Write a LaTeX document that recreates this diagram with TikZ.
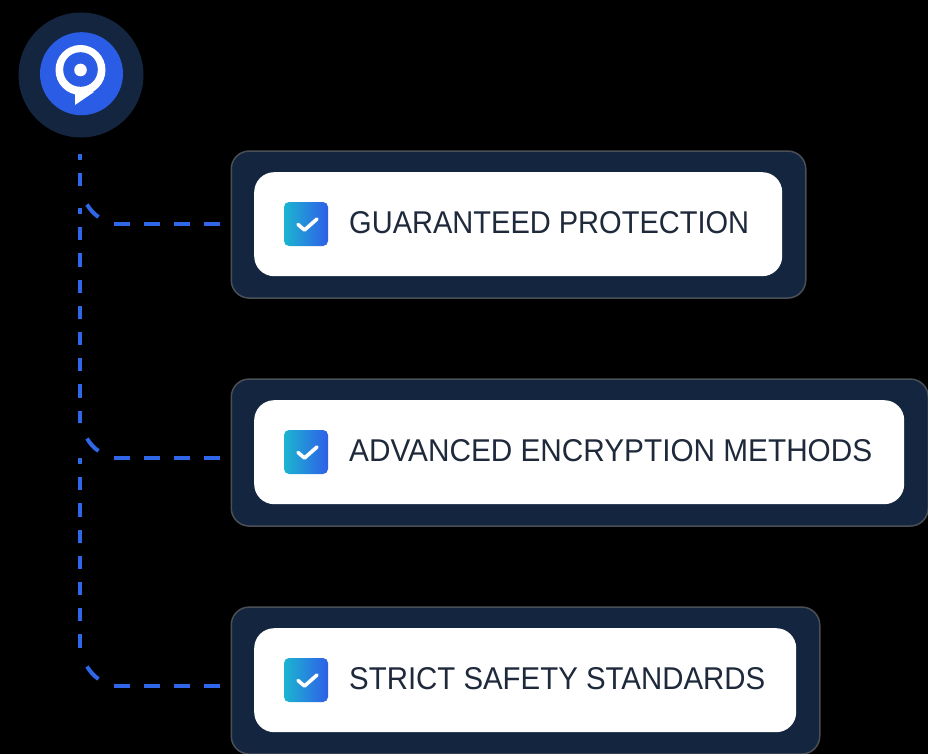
\documentclass[tikz,border=0pt]{standalone}
\usepackage{fontspec}
\setmainfont{Liberation Sans}
\usetikzlibrary{calc}
\definecolor{navy}{HTML}{14263F}
\definecolor{rim}{HTML}{4A4F55}
\definecolor{hubblue}{HTML}{2B5CE6}
\definecolor{dashblue}{HTML}{3067E8}
\definecolor{inktext}{HTML}{1E293B}
\definecolor{tickleft}{HTML}{1CB5D0}
\definecolor{tickright}{HTML}{2F5FE8}
\tikzset{
    outerbox/.style = {draw=rim, line width=1.5pt, fill=navy, rounded corners=18pt, anchor=north west, minimum height=147pt, inner sep=0pt},
    innerbox/.style = {fill=white, rounded corners=20pt, anchor=north west, minimum height=104pt, inner sep=0pt},
    tickbox/.style = {rounded corners=5pt, left color=tickleft, right color=tickright, minimum width=44pt, minimum height=44pt, inner sep=0pt},
    boxtext/.style = {text=inktext, font=\fontsize{29.5}{32}\selectfont, anchor=west, inner sep=0pt},
    link/.style = {draw=dashblue, line width=4pt},
    downlink/.style = {link, dash pattern=on 13.1pt off 13.1pt, dash phase=7pt},
    acrosslink/.style = {link, dash pattern=on 16pt off 14pt},
    tickmark/.style = {draw=white, line width=3.6pt, line cap=round, line join=round}
}

\begin{document}
\begin{tikzpicture}[x=1pt, y=-1pt]
    \useasboundingbox[fill=black] (0,0) rectangle (928,754);

    % hub
    \node[circle, fill=navy, minimum size=125pt, inner sep=0pt] (hub) at (81,75) {};
    \node[circle, fill=hubblue, minimum size=83pt, inner sep=0pt] (hubdisc) at (81.5,73.7) {};
    \fill[white] (80.5,70) circle (25);
    \fill[white] (75,90) -- (75,105) -- (94,92) -- cycle;
    \fill[hubblue] (80.5,69.5) circle (17.3);
    \fill[white] (80.5,70) circle (6.3);

    % boxes
    \node[outerbox, minimum width=574.5pt] (outerA) at (230.5,150.3) {};
    \node[outerbox, minimum width=697pt] (outerB) at (230.5,378.3) {};
    \node[outerbox, minimum width=588.5pt] (outerC) at (230.5,606.3) {};
    \node[innerbox, minimum width=528pt] (innerA) at (254,172) {};
    \node[innerbox, minimum width=650pt] (innerB) at (254,400) {};
    \node[innerbox, minimum width=542pt] (innerC) at (254,628) {};

    % connectors
    \foreach \name/\top/\ypos in {A/154/224, B/208/458, C/458/686}{
        \coordinate (top\name) at (80,\top);
        \coordinate (bend\name) at (80,\ypos-35);
        \coordinate (arcin\name) at (87,\ypos-19.5);
        \coordinate (arcout\name) at (98.5,\ypos-7);
        \coordinate (flat\name) at (114,\ypos);
        \coordinate (port\name) at (231,\ypos);
        \draw[downlink] (top\name) -- (bend\name);
        \draw[link] (arcin\name) .. controls (90,\ypos-14.5) and (94,\ypos-10) .. (arcout\name);
        \draw[acrosslink] (flat\name) -- (port\name);
    }

    % ticks and labels
    \foreach \name/\ypos/\wide/\words in {A/224/400/GUARANTEED PROTECTION, B/452/523/ADVANCED ENCRYPTION METHODS, C/680/416/STRICT SAFETY STANDARDS}{
        \node[tickbox] (tick\name) at (306,\ypos) {};
        \draw[tickmark] ($(tick\name)+(-8,0.5)$) -- ($(tick\name)+(-1.5,6)$) -- ($(tick\name)+(11,-5)$);
        \node[boxtext] (label\name) at (349,\ypos-1.5) {\resizebox{\wide pt}{22pt}{\words}};
    }
\end{tikzpicture}
\end{document}
